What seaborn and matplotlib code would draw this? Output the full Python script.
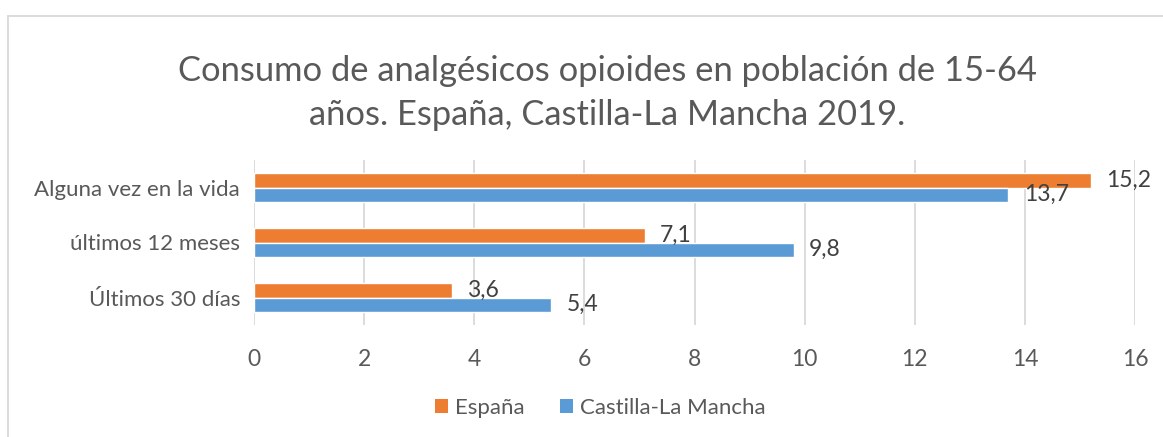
import matplotlib
matplotlib.use("Agg")
import matplotlib.pyplot as plt
import seaborn as sns
import pandas as pd
from matplotlib.patches import Rectangle, Patch

categories = ["Alguna vez en la vida", "últimos 12 meses", "Últimos 30 días"]
espana = [15.2, 7.1, 3.6]
clm = [13.7, 9.8, 5.4]
series_names = ["España", "Castilla-La Mancha"]
xticks = [0, 2, 4, 6, 8, 10, 12, 14, 16]

df = pd.DataFrame({
    "cat": categories * 2,
    "val": espana + clm,
    "serie": [series_names[0]] * 3 + [series_names[1]] * 3,
})

sns.set_theme(style="white")
plt.rcParams["font.family"] = ["Lato", "DejaVu Sans"]

W, H = 1163, 437
fig = plt.figure(figsize=(W / 100, H / 100), dpi=100)
ax = fig.add_axes([254 / W, 1 - 325 / H, (1135 - 254) / W, (325 - 160) / H])

colors = {"España": "#ED7D31", "Castilla-La Mancha": "#5B9BD5"}
sns.barplot(data=df, y="cat", x="val", hue="serie", order=categories,
            hue_order=series_names, palette=colors, orient="h",
            width=0.52, ax=ax, legend=False, saturation=1)

for cont in ax.containers:
    ax.bar_label(cont, labels=[f"{v:.1f}".replace(".", ",") for v in cont.datavalues],
                 padding=11, fontsize=16.5, color="#404040")

ax.set_xlim(0, 16)
ax.set_ylim(2.5, -0.5)
ax.set_xticks(xticks)
ax.set_xticklabels([str(t) for t in xticks])
ax.grid(axis="x", color="#D9D9D9", linewidth=1.3)
ax.set_axisbelow(True)
for s in ax.spines.values():
    s.set_visible(False)
ax.tick_params(axis="both", length=0, labelcolor="#595959")
ax.tick_params(axis="x", pad=17, labelsize=16.5)
ax.tick_params(axis="y", pad=10, labelsize=16)
ax.set_xlabel("")
ax.set_ylabel("")

fig.text(607 / W, 1 - 93 / H,
         "Consumo de analgésicos opioides en población de 15-64\naños. España, Castilla-La Mancha 2019.",
         ha="center", va="center", fontsize=24.8, color="#595959", linespacing=1.45)

handles = [Patch(facecolor=colors[n], edgecolor="none") for n in series_names]
fig.legend(handles, series_names, loc="center", bbox_to_anchor=(600 / W, 1 - 408 / H),
           ncol=2, frameon=False, fontsize=16, handlelength=0.6, handleheight=0.6,
           handletextpad=0.3, columnspacing=1.6, labelcolor="#595959")

fig.patches.append(Rectangle((8 / W, -0.1), 1.2, 1 - 16 / H + 0.1, transform=fig.transFigure,
                             fill=False, edgecolor="#D9D9D9", linewidth=1.3, zorder=0))

fig.savefig("out.png", dpi=100)
